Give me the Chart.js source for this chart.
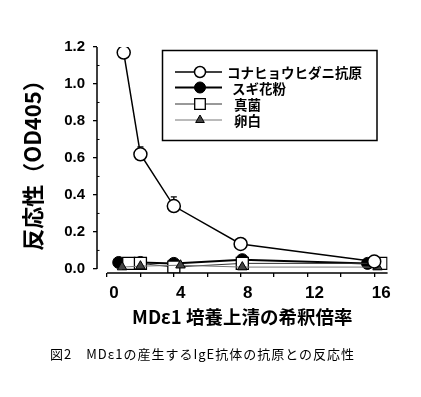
<!DOCTYPE html>
<html>
<head>
<meta charset="utf-8">
<script src="https://cdn.jsdelivr.net/npm/chart.js@4.4.1/dist/chart.umd.min.js"></script>
<style>
  html, body { margin: 0; padding: 0; background: #fff; }
  #wrap { position: relative; width: 421px; height: 397px; }
  #caption { position: absolute; left: 50px; top: 344px; font: 13px "Noto Sans CJK JP"; letter-spacing: 1px; color: #000; white-space: nowrap; }
</style>
</head>
<body>
<div id="wrap">
  <canvas id="myChart" width="421" height="397"></canvas>
  <div id="caption">図2　MDε1の産生するIgE抗体の抗原との反応性</div>
</div>
<script>
// data
const seriesNames = ['コナヒョウヒダニ抗原', 'スギ花粉', '真菌', '卵白'];
const miteX = [1, 2, 4, 8, 16];
const miteY = [1.17, 0.62, 0.34, 0.135, 0.04];
const miteErrTop = [null, 0.66, 0.39, 0.155, 0.05];
const cedarX = [0.7, 2, 4, 8.1, 15.6];
const cedarY = [0.035, 0.035, 0.03, 0.05, 0.03];
const fungiX = [1.3, 2, 4, 8.1, 16.4];
const fungiY = [0.03, 0.03, 0.01, 0.03, 0.03];
const eggX = [0.9, 2, 4.4, 8.1, 16.2];
const eggY = [0.01, 0.015, 0.02, 0.01, 0.01];
const xTickMarks = [0, 2, 4, 6, 8, 10, 12, 14, 16];
const xTickLabels = [0, 4, 8, 12, 16];
const yTicks = [0, 0.2, 0.4, 0.6, 0.8, 1.0, 1.2];
const yMinorTicks = [0.1, 0.3, 0.5, 0.7, 0.9, 1.1];

const toPoints = (xs, ys) => xs.map((x, i) => ({ x: x, y: ys[i] }));
const cjk = '"Noto Sans CJK JP", "Noto Sans CJK SC", sans-serif';
const latin = '"Liberation Sans", Arial, sans-serif';

// error bars (upper only) for the mite series
const errorBars = {
    id: 'errorBars',
    beforeDatasetsDraw(chart) {
        const { ctx, scales: { x, y } } = chart;
        ctx.save();
        ctx.strokeStyle = '#000';
        ctx.lineWidth = 1.3;
        miteErrTop.forEach((top, i) => {
            if (top == null) return;
            const px = x.getPixelForValue(miteX[i]);
            const py0 = y.getPixelForValue(miteY[i]);
            const py1 = y.getPixelForValue(top);
            ctx.beginPath();
            ctx.moveTo(px, py0);
            ctx.lineTo(px, py1);
            ctx.moveTo(px - 3, py1);
            ctx.lineTo(px + 3, py1);
            ctx.stroke();
        });
        ctx.restore();
    }
};

// separate (offset) axis lines and inner minor ticks
const axisLines = {
    id: 'axisLines',
    afterDraw(chart) {
        const { ctx, chartArea, scales: { x, y } } = chart;
        ctx.save();
        ctx.strokeStyle = '#000';
        ctx.lineWidth = 1.5;
        ctx.beginPath();
        ctx.moveTo(chartArea.left, y.getPixelForValue(1.2));
        ctx.lineTo(chartArea.left, y.getPixelForValue(0));
        ctx.moveTo(x.getPixelForValue(0), chartArea.bottom);
        ctx.lineTo(chartArea.right, chartArea.bottom);
        ctx.stroke();
        ctx.lineWidth = 1;
        ctx.beginPath();
        yMinorTicks.forEach(v => {
            const py = y.getPixelForValue(v);
            ctx.moveTo(chartArea.left, py);
            ctx.lineTo(chartArea.left + 2.5, py);
        });
        ctx.stroke();
        ctx.restore();
    }
};

// boxed legend, drawn from the dataset styles
const boxLegend = {
    id: 'boxLegend',
    afterDraw(chart) {
        const ctx = chart.ctx;
        const rows = [72, 87.5, 104, 120];
        const textX = [227, 232, 234, 234];
        ctx.save();
        ctx.strokeStyle = '#000';
        ctx.lineWidth = 1.5;
        ctx.strokeRect(162.5, 50.5, 214.5, 90);
        chart.data.datasets.forEach((ds, i) => {
            const ry = rows[i];
            ctx.strokeStyle = ds.borderColor;
            ctx.lineWidth = ds.borderWidth;
            ctx.beginPath();
            ctx.moveTo(175, ry);
            ctx.lineTo(222, ry);
            ctx.stroke();
            const r = ds.pointStyle === 'rect' ? 7.5 : (ds.pointStyle === 'triangle' ? 5 : 5.5);
            const h = r * Math.SQRT1_2;
            ctx.fillStyle = ds.pointBackgroundColor;
            ctx.strokeStyle = ds.pointBorderColor;
            ctx.lineWidth = ds.pointBorderWidth;
            ctx.beginPath();
            if (ds.pointStyle === 'circle') {
                ctx.arc(200, ry, r, 0, Math.PI * 2);
            } else if (ds.pointStyle === 'rect') {
                ctx.rect(200 - h, ry - h, 2 * h, 2 * h);
            } else {
                ctx.moveTo(200, ry - r);
                ctx.lineTo(200 + r * 0.866, ry + r * 0.5);
                ctx.lineTo(200 - r * 0.866, ry + r * 0.5);
                ctx.closePath();
            }
            ctx.fill();
            ctx.stroke();
            ctx.fillStyle = '#000';
            ctx.font = 'bold 13.5px ' + cjk;
            ctx.textBaseline = 'middle';
            ctx.fillText(seriesNames[i], textX[i], ry + 1);
        });
        ctx.restore();
    }
};

new Chart(document.getElementById('myChart'), {
    type: 'scatter',
    data: {
        datasets: [
            {
                label: seriesNames[0],
                data: toPoints(miteX, miteY),
                order: 0,
                showLine: true,
                borderColor: '#000',
                borderWidth: 1.5,
                pointStyle: 'circle',
                pointRadius: 6.5,
                pointBorderWidth: 1.5,
                pointBorderColor: '#000',
                pointBackgroundColor: '#fff'
            },
            {
                label: seriesNames[1],
                data: toPoints(cedarX, cedarY),
                order: 3,
                showLine: true,
                borderColor: '#000',
                borderWidth: 2,
                pointStyle: 'circle',
                pointRadius: 6,
                pointBorderWidth: 1,
                pointBorderColor: '#000',
                pointBackgroundColor: '#000'
            },
            {
                label: seriesNames[2],
                data: toPoints(fungiX, fungiY),
                order: 2,
                showLine: true,
                borderColor: '#333',
                borderWidth: 1,
                pointStyle: 'rect',
                pointRadius: 8.5,
                pointBorderWidth: 1.3,
                pointBorderColor: '#000',
                pointBackgroundColor: '#fff'
            },
            {
                label: seriesNames[3],
                data: toPoints(eggX, eggY),
                order: 1,
                showLine: true,
                borderColor: '#777',
                borderWidth: 1,
                pointStyle: 'triangle',
                pointRadius: 5.5,
                pointBorderWidth: 1,
                pointBorderColor: '#000',
                pointBackgroundColor: '#444'
            }
        ]
    },
    options: {
        responsive: false,
        animation: false,
        layout: { padding: { left: 0, top: 47, right: 33.4, bottom: 64 } },
        plugins: {
            legend: { display: false },
            tooltip: { enabled: false }
        },
        scales: {
            x: {
                type: 'linear',
                min: -0.6,
                max: 16.8,
                afterFit: s => { s.height = 60; },
                afterBuildTicks: s => { s.ticks = xTickMarks.map(v => ({ value: v })); },
                border: { display: false },
                grid: { drawOnChartArea: false, drawTicks: true, tickLength: 4, color: '#000', lineWidth: 1.3 },
                ticks: {
                    autoSkip: false,
                    maxRotation: 0,
                    padding: 6,
                    labelOffset: 7,
                    color: '#000',
                    font: { family: latin, size: 17, weight: 'bold' },
                    callback: v => xTickLabels.includes(v) ? String(v) : ''
                },
                title: {
                    display: true,
                    text: 'MDε1 培養上清の希釈倍率',
                    color: '#000',
                    font: { family: cjk, size: 18.5, weight: 'bold' },
                    padding: { top: 0, bottom: 5 }
                }
            },
            y: {
                type: 'linear',
                min: -0.022,
                max: 1.2,
                afterFit: s => { s.width = 97; },
                afterBuildTicks: s => { s.ticks = yTicks.map(v => ({ value: v })); },
                border: { display: false },
                grid: { drawOnChartArea: false, drawTicks: true, tickLength: 4, color: '#000', lineWidth: 1.3 },
                ticks: {
                    autoSkip: false,
                    padding: 8,
                    color: '#000',
                    font: { family: latin, size: 15, weight: 'bold' },
                    callback: v => v.toFixed(1)
                },
                title: {
                    display: true,
                    text: '反応性（OD405）',
                    color: '#000',
                    font: { family: cjk, size: 22, weight: 'bold' },
                    padding: { top: 19, bottom: 0 }
                }
            }
        }
    },
    plugins: [errorBars, axisLines, boxLegend]
});
</script>
</body>
</html>
